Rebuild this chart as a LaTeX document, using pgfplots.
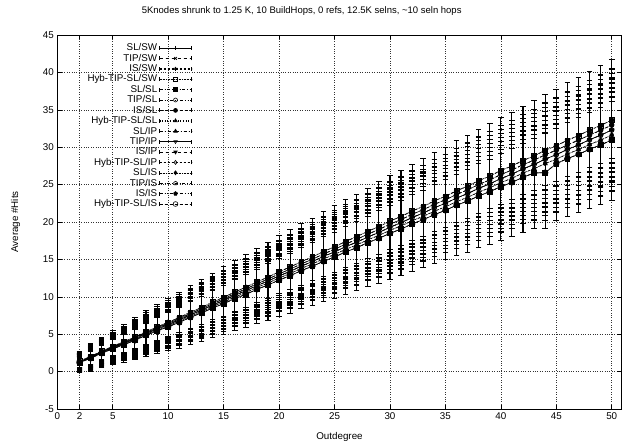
\documentclass[border=0pt]{standalone}
\usepackage{fontspec}
\setmainfont{Liberation Sans}
\usepackage{pgfplots}
\usepackage{pgfplotstable}
\pgfplotsset{compat=1.18}

% mean levels (mA..mE) and error half-widths (eA..eD) per outdegree
\pgfplotstableread{
x  mA    mB    mC    mD    mE    eA   eB   eC   eD
2  1.20  1.25  1.30  1.35  1.40  1.30 1.11 0.91 0.72
3  1.78  1.84  1.90  1.96  2.02  1.70 1.45 1.19 0.94
4  2.46  2.53  2.60  2.67  2.74  1.90 1.62 1.33 1.05
5  3.04  3.12  3.20  3.28  3.36  2.10 1.79 1.47 1.16
6  3.60  3.70  3.80  3.90  4.00  2.30 1.96 1.61 1.27
7  4.18  4.29  4.40  4.51  4.62  2.60 2.21 1.82 1.43
8  4.86  4.98  5.10  5.22  5.34  2.80 2.38 1.96 1.54
9  5.44  5.57  5.70  5.83  5.96  3.00 2.55 2.10 1.65
10 6.00  6.15  6.30  6.45  6.60  3.20 2.72 2.24 1.76
11 6.58  6.74  6.90  7.06  7.22  3.40 2.89 2.38 1.87
12 7.26  7.43  7.60  7.77  7.94  3.60 3.06 2.52 1.98
13 7.84  8.02  8.20  8.38  8.56  3.80 3.23 2.66 2.09
14 8.50  8.70  8.90  9.10  9.30  3.90 3.32 2.73 2.15
15 9.08  9.29  9.50  9.71  9.92  4.10 3.49 2.87 2.26
16 9.76  9.98  10.20 10.42 10.64 4.20 3.57 2.94 2.31
17 10.32 10.56 10.80 11.04 11.28 4.40 3.74 3.08 2.42
18 11.00 11.25 11.50 11.75 12.00 4.50 3.83 3.15 2.48
19 11.58 11.84 12.10 12.36 12.62 4.70 4.00 3.29 2.59
20 12.24 12.52 12.80 13.08 13.36 4.80 4.08 3.36 2.64
21 12.82 13.11 13.40 13.69 13.98 5.00 4.25 3.50 2.75
22 13.50 13.80 14.10 14.40 14.70 5.10 4.34 3.57 2.81
23 14.08 14.39 14.70 15.01 15.32 5.20 4.42 3.64 2.86
24 14.74 15.07 15.40 15.73 16.06 5.40 4.59 3.78 2.97
25 15.32 15.66 16.00 16.34 16.68 5.50 4.68 3.85 3.03
26 16.00 16.35 16.70 17.05 17.40 5.60 4.76 3.92 3.08
27 16.56 16.93 17.30 17.67 18.04 5.70 4.85 3.99 3.14
28 17.24 17.62 18.00 18.38 18.76 5.80 4.93 4.06 3.19
29 17.82 18.21 18.60 18.99 19.38 6.00 5.10 4.20 3.30
30 18.48 18.89 19.30 19.71 20.12 6.10 5.19 4.27 3.36
31 19.06 19.48 19.90 20.32 20.74 6.20 5.27 4.34 3.41
32 19.74 20.17 20.60 21.03 21.46 6.30 5.36 4.41 3.47
33 20.32 20.76 21.20 21.64 22.08 6.40 5.44 4.48 3.52
34 20.98 21.44 21.90 22.36 22.82 6.50 5.53 4.55 3.58
35 21.56 22.03 22.50 22.97 23.44 6.60 5.61 4.62 3.63
36 22.24 22.72 23.20 23.68 24.16 6.70 5.70 4.69 3.69
37 22.80 23.30 23.80 24.30 24.80 6.80 5.78 4.76 3.74
38 23.48 23.99 24.50 25.01 25.52 6.90 5.87 4.83 3.80
39 24.06 24.58 25.10 25.62 26.14 7.00 5.95 4.90 3.85
40 24.72 25.26 25.80 26.34 26.88 7.10 6.04 4.97 3.91
41 25.30 25.85 26.40 26.95 27.50 7.20 6.12 5.04 3.96
42 25.98 26.54 27.10 27.66 28.22 7.30 6.21 5.11 4.02
43 26.56 27.13 27.70 28.27 28.84 7.40 6.29 5.18 4.07
44 26.60 27.81 28.40 28.99 29.58 7.50 6.38 5.25 4.13
45 27.80 28.40 29.00 29.60 30.20 7.60 6.46 5.32 4.18
46 28.48 29.09 29.70 30.31 30.92 7.70 6.55 5.39 4.24
47 29.04 29.67 30.30 30.93 31.56 7.80 6.63 5.46 4.29
48 29.72 30.36 31.00 31.64 32.28 7.90 6.72 5.53 4.35
49 30.30 30.95 31.60 32.25 32.90 8.00 6.80 5.60 4.40
50 30.96 31.63 32.30 32.97 33.64 8.10 6.89 5.67 4.46
}\hits

\begin{document}
\begin{tikzpicture}
\path[use as bounding box] (-57.3pt,-38pt) rectangle (565.7pt,409pt);
\begin{axis}[
  at={(0pt,0pt)}, anchor=south west,
  scale only axis,
  width=564.4pt, height=374pt,
  xmin=0, xmax=50.9, ymin=-5, ymax=45,
  xtick={0,2,5,10,15,20,25,30,35,40,45,50},
  ytick={-5,0,5,10,15,20,25,30,35,40,45},
  font=\fontsize{9.8}{11}\selectfont,
  /pgf/number format/assume math mode=true,
  tick label style={font=\fontsize{9.8}{11}\selectfont},
  tick style={black, line width=0.5pt},
  axis line style={line width=0.7pt},
  grid=major,
  grid style={dotted, black!80, line width=0.5pt},
  title={5Knodes shrunk to 1.25 K, 10 BuildHops, 0 refs, 12.5K selns, \textasciitilde10 seln hops},
  title style={at={(axis description cs:0.433,1.047)}, anchor=center, font=\fontsize{9.5}{11}\selectfont},
  xlabel={Outdegree},
  ylabel={Average \#Hits},
  xlabel style={at={(axis description cs:0.5,-0.075)}, anchor=center},
  ylabel style={at={(axis description cs:-0.074,0.5)}, anchor=center},
  every axis plot/.append style={black, line width=0.6pt, mark size=2.4pt},
  error bars/y dir=both,
  error bars/y explicit,
  error bars/error mark=-,
  error bars/error bar style={solid, line width=1.1pt},
  error bars/error mark options={rotate=90, solid, mark size=2.8pt, line width=0.6pt},
  legend plot pos=right,
  legend cell align=right,
  legend style={at={(axis description cs:0.244,0.988)}, anchor=north east,
    draw=none, fill=none, row sep=-2.2pt,
    font=\fontsize{9.8}{11}\selectfont},
  legend image code/.code={
    \draw[#1, line width=0.5pt] (0pt,0pt) -- (32pt,0pt);
    \draw[#1, solid, line width=0.5pt] (0pt,-2pt) -- (0pt,2pt) (32pt,-2pt) -- (32pt,2pt);
    \draw[#1, mark repeat=2, mark phase=2, mark size=2pt] plot coordinates {(0pt,0pt) (16pt,0pt) (32pt,0pt)};
  },
]
\addplot[solid, mark=+, mark options={solid}] table[x=x, y=mC, y error=eA] {\hits};
\addplot[dashed, mark=x, mark options={solid}] table[x=x, y=mD, y error=eB] {\hits};
\addplot[dash pattern=on 2pt off 2pt, mark=asterisk, mark options={solid}] table[x=x, y=mB, y error=eD] {\hits};
\addplot[densely dotted, mark=square, mark options={solid}] table[x=x, y=mE, y error=eC] {\hits};
\addplot[dashdotted, mark=square*, mark options={solid}] table[x=x, y=mA, y error=eA] {\hits};
\addplot[dashdotdotted, mark=o, mark options={solid}] table[x=x, y=mC, y error=eC] {\hits};
\addplot[dash pattern=on 3pt off 2pt, mark=*, mark options={solid}] table[x=x, y=mD, y error=eD] {\hits};
\addplot[dotted, mark=triangle, mark options={solid}] table[x=x, y=mB, y error=eC] {\hits};
\addplot[dash pattern=on 3pt off 2pt on 1pt off 2pt, mark=triangle*, mark options={solid}] table[x=x, y=mE, y error=eB] {\hits};
\addplot[solid, mark=triangle, mark options={solid, rotate=180}] table[x=x, y=mA, y error=eC] {\hits};
\addplot[dashed, mark=triangle*, mark options={solid, rotate=180}] table[x=x, y=mC, y error=eD] {\hits};
\addplot[dash pattern=on 2pt off 2pt, mark=diamond, mark options={solid}] table[x=x, y=mD, y error=eC] {\hits};
\addplot[densely dotted, mark=diamond*, mark options={solid}] table[x=x, y=mB, y error=eB] {\hits};
\addplot[dashdotted, mark=pentagon, mark options={solid}] table[x=x, y=mC, y error=eB] {\hits};
\addplot[dashdotdotted, mark=pentagon*, mark options={solid}] table[x=x, y=mE, y error=eA] {\hits};
\addplot[dash pattern=on 3pt off 2pt, mark=o, mark options={solid, scale=1.2}] table[x=x, y=mA, y error=eB] {\hits};
\legend{SL/SW,TIP/SW,IS/SW,Hyb-TIP-SL/SW,SL/SL,TIP/SL,IS/SL,Hyb-TIP-SL/SL,SL/IP,TIP/IP,IS/IP,Hyb-TIP-SL/IP,SL/IS,TIP/IS,IS/IS,Hyb-TIP-SL/IS}
\end{axis}
\end{tikzpicture}
\end{document}
